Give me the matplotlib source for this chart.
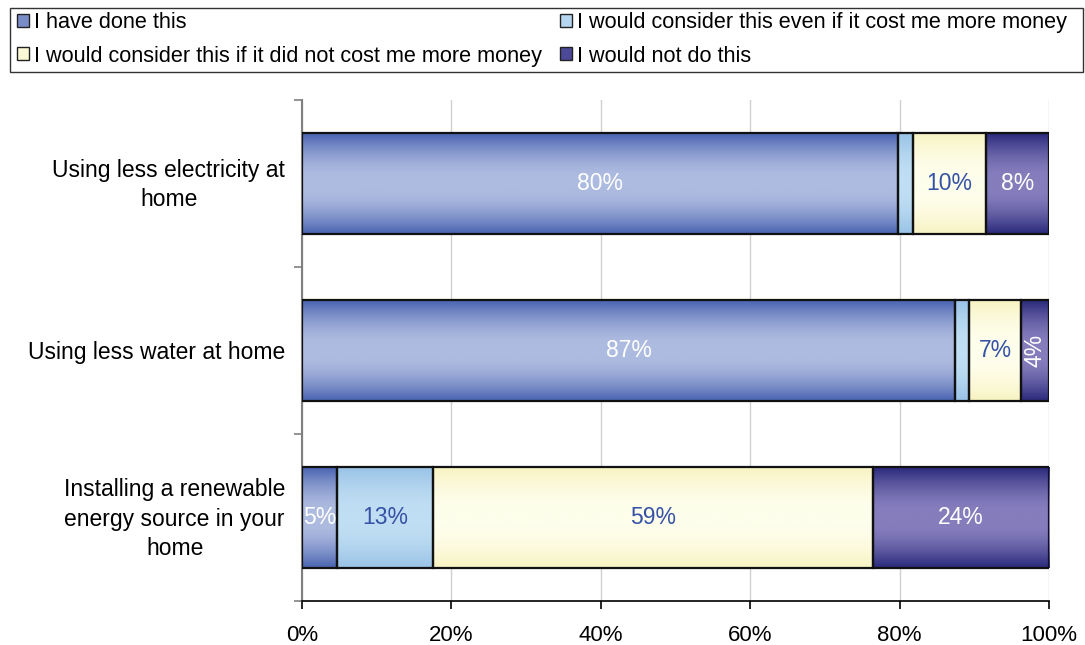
import numpy as np
import matplotlib
matplotlib.use("Agg")
import matplotlib.pyplot as plt
from matplotlib.patches import Patch, Rectangle
from matplotlib.colors import to_rgb

plt.rcParams["font.family"] = ["Liberation Sans", "DejaVu Sans"]

# Survey data (share of respondents, %)
categories = [
    "Using less electricity at\nhome",
    "Using less water at home",
    "Installing a renewable\nenergy source in your\nhome",
]
series_names = [
    "I have done this",
    "I would consider this even if it cost me more money",
    "I would consider this if it did not cost me more money",
    "I would not do this",
]
have_done = [79.8, 87.4, 4.7]
consider_even_if_cost = [2.0, 1.9, 12.8]
consider_if_no_cost = [9.8, 7.0, 58.9]
would_not = [8.4, 3.7, 23.6]
tick_labels = ["0%", "20%", "40%", "60%", "80%", "100%"]

series = [have_done, consider_even_if_cost, consider_if_no_cost, would_not]

# (edge colour, centre colour) for the banded gradient of each series
gradients = [
    ("#4862b0", "#adbbe0"),
    ("#98c2e6", "#c0def3"),
    ("#f8f3c2", "#fefeec"),
    ("#28287a", "#857dbc"),
]
legend_colors = ["#7a8cc8", "#b4d6f0", "#fbf8d6", "#4c4a98"]
label_colors = ["white", "#3552a6", "#3552a6", "white"]

fig = plt.figure(figsize=(10.85, 6.45), dpi=100)
ax = fig.add_axes([302 / 1085, 1 - 601 / 645, 747 / 1085, 501 / 645])

y = np.arange(len(categories))
bar_h = 0.6


def gradient_image(edge, centre, n=200):
    t = np.abs(np.linspace(-1, 1, n))
    w = np.clip((t - 0.15) / 0.85, 0, 1) ** 1.6
    e = np.array(to_rgb(edge))
    c = np.array(to_rgb(centre))
    rows = c[None, :] + (e - c)[None, :] * w[:, None]
    return rows[:, None, :]


left = np.zeros(len(categories))
for vals, (edge, centre), lc in zip(series, gradients, label_colors):
    vals = np.asarray(vals, dtype=float)
    bars = ax.barh(y, vals, left=left, height=bar_h, facecolor="none",
                   edgecolor="#111111", linewidth=1.6, zorder=3)
    img = gradient_image(edge, centre)
    for rect, v in zip(bars, vals):
        x0, y0 = rect.get_x(), rect.get_y()
        w, h = rect.get_width(), rect.get_height()
        ax.imshow(img, extent=(x0, x0 + w, y0 + h, y0), aspect="auto",
                  interpolation="bilinear", zorder=2)
        if v >= 3:
            rot = 90 if v < 4.5 else 0
            ax.text(x0 + w / 2, y0 + h / 2, f"{v:.0f}%", ha="center",
                    va="center", color=lc, fontsize=16.5, rotation=rot,
                    zorder=4)
    left += vals

ax.set_xlim(0, 100)
ax.set_ylim(len(categories) - 0.5, -0.5)

ax.set_xticks(np.arange(0, 101, 20))
ax.set_xticklabels(tick_labels, fontsize=16)
ax.tick_params(axis="x", direction="out", length=6, width=1.2,
               color="black", pad=11)

# Category names sit on hidden major ticks; wrapped names are nudged up a
# little so their text block centres on the bar.
label_pos = [yi - (0.024 if "\n" in c else 0.0) for yi, c in zip(y, categories)]
ax.set_yticks(label_pos)
ax.set_yticklabels(categories, fontsize=16.5)
for lab in ax.get_yticklabels():
    lab.set_multialignment("center")
    lab.set_linespacing(1.34)
ax.tick_params(axis="y", which="major", length=0, pad=12)
ax.set_yticks(np.arange(-0.5, len(categories), 1.0), minor=True)
ax.tick_params(axis="y", which="minor", direction="out", length=6,
               width=1.2, color="#808080")

ax.grid(axis="x", color="#d0d0d0", linewidth=1.0)
ax.set_axisbelow(True)
for s in ("top", "right"):
    ax.spines[s].set_visible(False)
ax.spines["left"].set_color("#808080")
ax.spines["left"].set_linewidth(1.5)
ax.spines["bottom"].set_color("black")
ax.spines["bottom"].set_linewidth(1.2)

# Legend in a framed box across the top
fig.patches.append(Rectangle((10 / 1085, 1 - 72 / 645), 1073 / 1085,
                             64 / 645, transform=fig.transFigure,
                             facecolor="white", edgecolor="#333333",
                             linewidth=1.0, zorder=0))
handles = [Patch(facecolor=c, edgecolor="#222222", linewidth=1.0)
           for c in legend_colors]
order = [0, 2, 1, 3]
fig.legend([handles[i] for i in order], [series_names[i] for i in order],
           loc="upper left", bbox_to_anchor=(2 / 1085, 1 + 3 / 645),
           ncol=2, frameon=False, fontsize=15.6, handlelength=0.55,
           handleheight=0.55, handletextpad=0.25, columnspacing=0.8,
           labelspacing=0.57, borderpad=0.2)

fig.savefig("out.png", dpi=100)
